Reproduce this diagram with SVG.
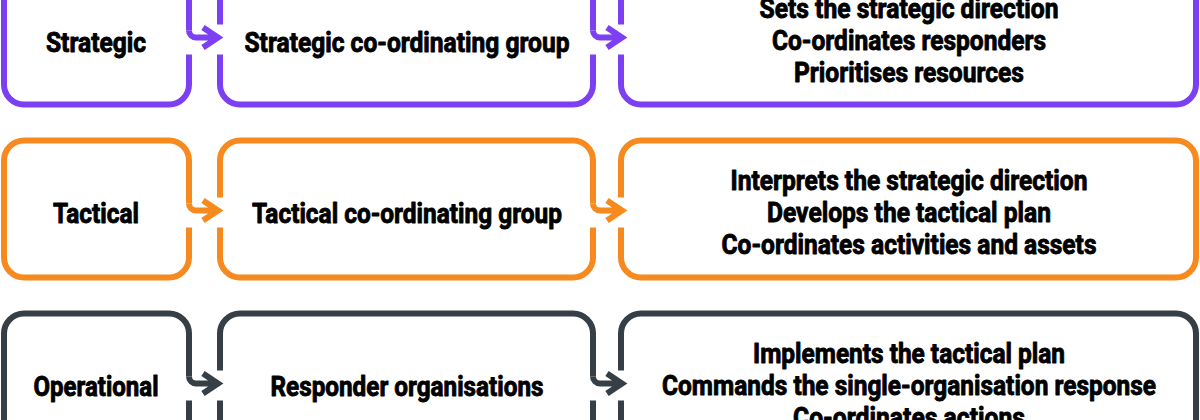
<svg xmlns="http://www.w3.org/2000/svg" width="1200" height="420" viewBox="0 0 1200 420">
<style>
.box{fill:none;stroke-width:6;stroke-linejoin:round;stroke-linecap:butt}
.con{fill:none;stroke-width:6;stroke-linejoin:miter;stroke-miterlimit:10;stroke-linecap:butt}
.s{stroke:#7d3ff2}
.t{stroke:#f78a1f}
.o{stroke:#353f45}
text{font-family:Roboto,"Liberation Sans",sans-serif;font-weight:bold;font-size:28px;fill:#000;stroke:#000;stroke-width:0.9;stroke-linejoin:round;text-anchor:middle}
</style>
<rect width="1200" height="420" fill="#fff"/>
<!-- Strategic row -->
<g transform="translate(0,-32.5)">
  <g id="strategic-level">
    <path class="box s" d="M189,87 V117 A20 20 0 0 1 169,137 H24 A20 20 0 0 1 4,117 V20 A20 20 0 0 1 24,0 H169 A20 20 0 0 1 189,20 V63"/>
    <text x="96" y="84" textLength="100" lengthAdjust="spacingAndGlyphs">Strategic</text>
  </g>
  <g id="strategic-group">
    <path class="box s" d="M220,57 V20 A20 20 0 0 1 240,0 H573 A20 20 0 0 1 593,20 V63 M593,87 V117 A20 20 0 0 1 573,137 H240 A20 20 0 0 1 220,117 V87"/>
    <text x="407" y="84" textLength="325" lengthAdjust="spacingAndGlyphs">Strategic co-ordinating group</text>
  </g>
  <g id="strategic-roles">
    <path class="box s" d="M621,57 V20 A20 20 0 0 1 641,0 H1176 A20 20 0 0 1 1196,20 V117 A20 20 0 0 1 1176,137 H641 A20 20 0 0 1 621,117 V87"/>
    <text x="909" y="50" textLength="299" lengthAdjust="spacingAndGlyphs">Sets the strategic direction</text>
    <text x="909" y="82" textLength="274" lengthAdjust="spacingAndGlyphs">Co-ordinates responders</text>
    <text x="909" y="114" textLength="230" lengthAdjust="spacingAndGlyphs">Prioritises resources</text>
  </g>
</g>
<!-- Tactical row -->
<g transform="translate(0,140.5)">
  <g id="tactical-level">
    <path class="box t" d="M189,87 V117 A20 20 0 0 1 169,137 H24 A20 20 0 0 1 4,117 V20 A20 20 0 0 1 24,0 H169 A20 20 0 0 1 189,20 V63"/>
    <text x="96" y="82" textLength="86" lengthAdjust="spacingAndGlyphs">Tactical</text>
  </g>
  <g id="tactical-group">
    <path class="box t" d="M220,57 V20 A20 20 0 0 1 240,0 H573 A20 20 0 0 1 593,20 V63 M593,87 V117 A20 20 0 0 1 573,137 H240 A20 20 0 0 1 220,117 V87"/>
    <text x="407" y="82" textLength="310" lengthAdjust="spacingAndGlyphs">Tactical co-ordinating group</text>
  </g>
  <g id="tactical-roles">
    <path class="box t" d="M621,57 V20 A20 20 0 0 1 641,0 H1176 A20 20 0 0 1 1196,20 V117 A20 20 0 0 1 1176,137 H641 A20 20 0 0 1 621,117 V87"/>
    <text x="909" y="49" textLength="357" lengthAdjust="spacingAndGlyphs">Interprets the strategic direction</text>
    <text x="909" y="81" textLength="284" lengthAdjust="spacingAndGlyphs">Develops the tactical plan</text>
    <text x="909" y="113" textLength="375" lengthAdjust="spacingAndGlyphs">Co-ordinates activities and assets</text>
  </g>
</g>
<!-- Operational row -->
<g transform="translate(0,313.5)">
  <g id="operational-level">
    <path class="box o" d="M189,87 V117 A20 20 0 0 1 169,137 H24 A20 20 0 0 1 4,117 V20 A20 20 0 0 1 24,0 H169 A20 20 0 0 1 189,20 V63"/>
    <text x="96" y="82" textLength="125" lengthAdjust="spacingAndGlyphs">Operational</text>
  </g>
  <g id="responder-organisations">
    <path class="box o" d="M220,57 V20 A20 20 0 0 1 240,0 H573 A20 20 0 0 1 593,20 V63 M593,87 V117 A20 20 0 0 1 573,137 H240 A20 20 0 0 1 220,117 V87"/>
    <text x="407" y="82" textLength="273" lengthAdjust="spacingAndGlyphs">Responder organisations</text>
  </g>
  <g id="operational-roles">
    <path class="box o" d="M621,57 V20 A20 20 0 0 1 641,0 H1176 A20 20 0 0 1 1196,20 V117 A20 20 0 0 1 1176,137 H641 A20 20 0 0 1 621,117 V87"/>
    <text x="909" y="49" textLength="312" lengthAdjust="spacingAndGlyphs">Implements the tactical plan</text>
    <text x="909" y="81" textLength="494" lengthAdjust="spacingAndGlyphs">Commands the single-organisation response</text>
    <text x="909" y="113" textLength="232" lengthAdjust="spacingAndGlyphs">Co-ordinates actions</text>
  </g>
</g>
<!-- Connectors -->
<g id="connectors">
  <g transform="translate(0,-32.5)">
    <path class="con s" d="M189,63 A7 7 0 0 0 196,70 H216 M203,60 L218,70 L203,80"/>
    <path class="con s" d="M593,63 A7 7 0 0 0 600,70 H620 M607,60 L622,70 L607,80"/>
  </g>
  <g transform="translate(0,140.5)">
    <path class="con t" d="M189,63 A7 7 0 0 0 196,70 H216 M203,60 L218,70 L203,80"/>
    <path class="con t" d="M593,63 A7 7 0 0 0 600,70 H620 M607,60 L622,70 L607,80"/>
  </g>
  <g transform="translate(0,313.5)">
    <path class="con o" d="M189,63 A7 7 0 0 0 196,70 H216 M203,60 L218,70 L203,80"/>
    <path class="con o" d="M593,63 A7 7 0 0 0 600,70 H620 M607,60 L622,70 L607,80"/>
  </g>
</g>
</svg>
